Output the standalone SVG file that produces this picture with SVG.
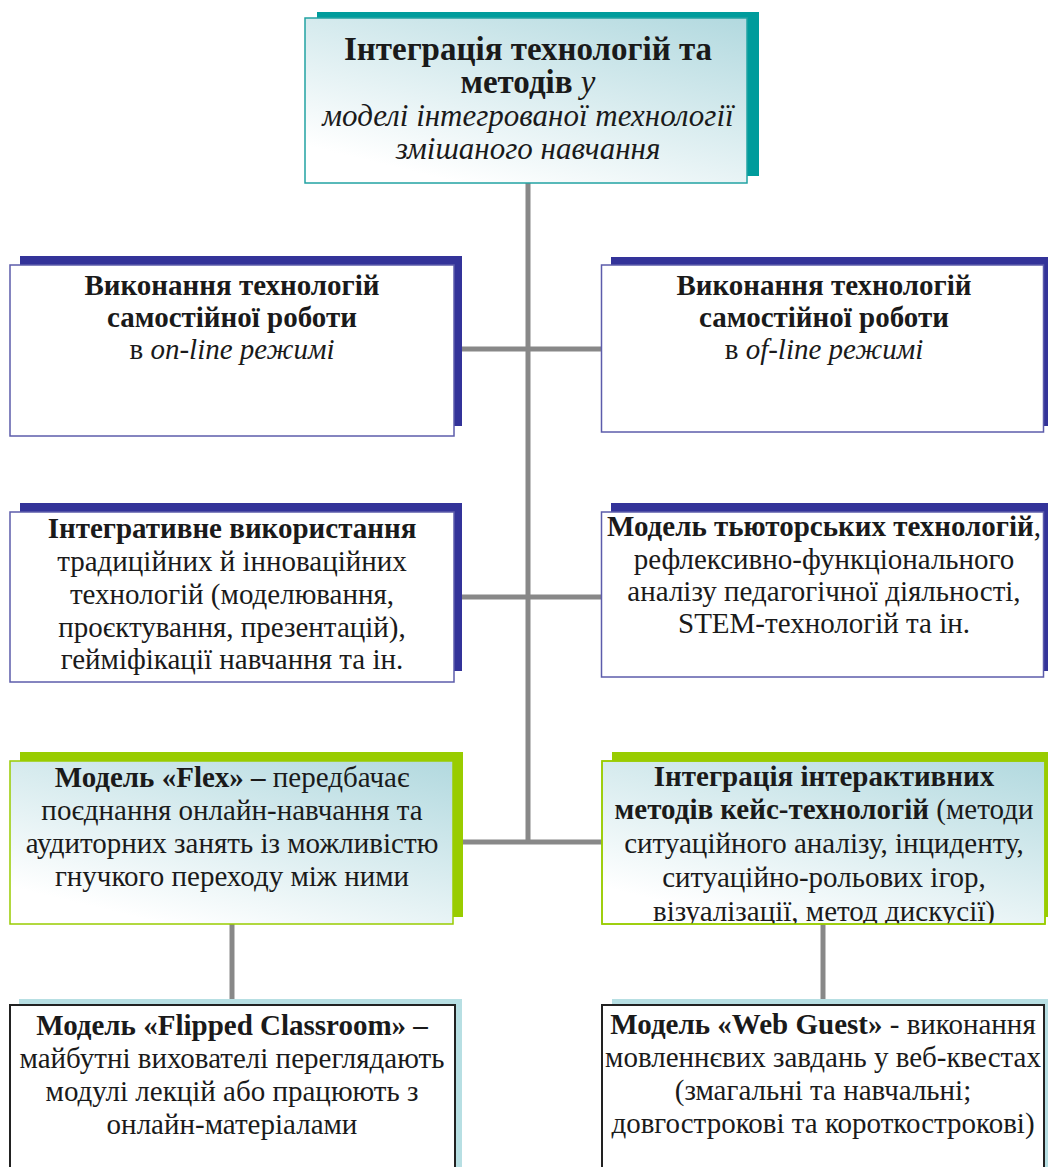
<svg xmlns="http://www.w3.org/2000/svg" width="1048" height="1167" viewBox="0 0 1048 1167">
<style>
text{font-family:"Liberation Serif","Times New Roman",serif;font-size:29px;fill:#1a1a1a;text-anchor:middle}
.b{font-weight:bold}
.i{font-style:italic}
.t{font-size:33px}
.ti{font-size:31px}
.conn{stroke:#888;stroke-width:5;fill:none}
.fteal{fill:#009c9c}
.fblue{fill:#333399}
.fgreen{fill:#99cc00}
.flight{fill:#b7dfe3}
.bteal{fill:url(#grad);stroke:#22a3a3;stroke-width:1.5}
.bblue{fill:#fff;stroke:#5c5cab;stroke-width:1.5}
.bgreen{fill:url(#grad);stroke:#99cc00;stroke-width:1.5}
.ogreen{fill:none;stroke:#99cc00;stroke-width:1.5}
.bdark{fill:#fff;stroke:#222;stroke-width:2}
</style>
<defs>
<linearGradient id="grad" x1="1" y1="0" x2="0.35" y2="1">
<stop offset="0" stop-color="#b2d9df"/>
<stop offset="1" stop-color="#ffffff"/>
</linearGradient>
<clipPath id="clip7"><rect x="602" y="761" width="443" height="163"/></clipPath>
</defs>
<rect width="1048" height="1167" fill="#fff"/>
<g id="connectors">
<line class="conn" x1="528" y1="183" x2="528" y2="844"/>
<line class="conn" x1="454" y1="349" x2="602" y2="349"/>
<line class="conn" x1="454" y1="597" x2="602" y2="597"/>
<line class="conn" x1="454" y1="842" x2="602" y2="842"/>
<line class="conn" x1="232" y1="924" x2="232" y2="1005"/>
<line class="conn" x1="823" y1="924" x2="823" y2="1005"/>
</g>
<g id="top">
<rect class="fteal" x="317" y="12" width="442" height="164"/>
<rect class="bteal" x="305" y="18" width="442" height="165"/>
<text x="528" y="60" class="b t">Інтеграція технологій та</text>
<text x="528" y="93" class="t"><tspan class="b">методів </tspan><tspan class="i">у</tspan></text>
<text x="528" y="126" class="i ti">моделі інтегрованої технології</text>
<text x="528" y="159" class="i ti">змішаного навчання</text>
</g>
<g id="online">
<rect class="fblue" x="20" y="256" width="442" height="170"/>
<rect class="bblue" x="10" y="265" width="444" height="171"/>
<text x="232" y="295" class="b">Виконання технологій</text>
<text x="232" y="327" class="b">самостійної роботи</text>
<text x="232" y="359">в <tspan class="i">on-line режимі</tspan></text>
</g>
<g id="offline">
<rect class="fblue" x="611" y="257" width="437" height="169"/>
<rect class="bblue" x="601.5" y="265" width="442" height="167"/>
<text x="824" y="295" class="b">Виконання технологій</text>
<text x="824" y="327" class="b">самостійної роботи</text>
<text x="824" y="359">в <tspan class="i">of-line режимі</tspan></text>
</g>
<g id="integrative">
<rect class="fblue" x="20" y="503" width="442" height="168"/>
<rect class="bblue" x="10" y="512" width="444" height="170"/>
<text x="232" y="538" class="b">Інтегративне використання</text>
<text x="232" y="571">традиційних й інноваційних</text>
<text x="232" y="604">технологій (моделювання,</text>
<text x="232" y="637">проєктування, презентацій),</text>
<text x="232" y="669">гейміфікації навчання та ін.</text>
</g>
<g id="tutor">
<rect class="fblue" x="611" y="503" width="437" height="168"/>
<rect class="bblue" x="601.5" y="512" width="442" height="165"/>
<text x="824" y="536"><tspan class="b">Модель тьюторських технологій</tspan>,</text>
<text x="824" y="569">рефлексивно-функціонального</text>
<text x="824" y="601">аналізу педагогічної діяльності,</text>
<text x="824" y="633">STEM-технологій та ін.</text>
</g>
<g id="flex">
<rect class="fgreen" x="20" y="752" width="443" height="165"/>
<rect class="bgreen" x="10" y="761" width="443" height="163"/>
<text x="232" y="787"><tspan class="b">Модель «Flex» –</tspan> передбачає</text>
<text x="232" y="820">поєднання онлайн-навчання та</text>
<text x="232" y="853">аудиторних занять із можливістю</text>
<text x="232" y="886">гнучкого переходу між ними</text>
</g>
<g id="interactive">
<rect class="fgreen" x="612" y="752" width="436" height="165"/>
<rect class="bgreen" x="602" y="761" width="443" height="163"/>
<g clip-path="url(#clip7)">
<text x="824" y="786" class="b">Інтеграція інтерактивних</text>
<text x="824" y="819"><tspan class="b">методів кейс-технологій</tspan> (методи</text>
<text x="824" y="853">ситуаційного аналізу, інциденту,</text>
<text x="824" y="887">ситуаційно-рольових ігор,</text>
<text x="824" y="921">візуалізації, метод дискусії)</text>
</g>
<rect class="ogreen" x="602" y="761" width="443" height="163"/>
</g>
<g id="flipped">
<rect class="flight" x="19" y="999" width="443" height="170"/>
<rect class="bdark" x="10" y="1005" width="445" height="170"/>
<text x="232" y="1035" class="b">Модель «Flipped Classroom» –</text>
<text x="232" y="1068">майбутні вихователі переглядають</text>
<text x="232" y="1101">модулі лекцій або працюють з</text>
<text x="232" y="1134">онлайн-матеріалами</text>
</g>
<g id="webguest">
<rect class="flight" x="612" y="999" width="436" height="170"/>
<rect class="bdark" x="602" y="1005" width="442" height="170"/>
<text x="823" y="1034"><tspan class="b">Модель «Web Guest»</tspan> - виконання</text>
<text x="823" y="1067">мовленнєвих завдань у веб-квестах</text>
<text x="823" y="1100">(змагальні та навчальні;</text>
<text x="823" y="1133">довгострокові та короткострокові)</text>
</g>
</svg>
